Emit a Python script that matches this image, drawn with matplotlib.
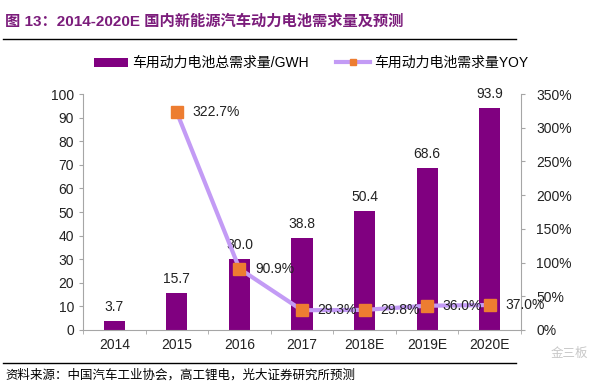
import matplotlib
matplotlib.use("Agg")
import matplotlib.pyplot as plt
from matplotlib.lines import Line2D
from matplotlib.ticker import FixedLocator

plt.rcParams['font.family'] = ['Liberation Sans', 'Noto Sans CJK SC', 'DejaVu Sans']

years = ['2014', '2015', '2016', '2017', '2018E', '2019E', '2020E']
demand = [3.7, 15.7, 30.0, 38.8, 50.4, 68.6, 93.9]
yoy_years = ['2015', '2016', '2017', '2018E', '2019E', '2020E']
yoy = [322.7, 90.9, 29.3, 29.8, 36.0, 37.0]

bar_color = '#800080'
line_color = '#C39BF5'
marker_color = '#ED7D31'
grey = '#A6A6A6'

fig = plt.figure(figsize=(6.16, 3.85), dpi=100)
ax1 = fig.add_axes([0.1347, 0.1429, 0.7111, 0.6129])

x = list(range(len(years)))
ax1.bar(x, demand, width=0.34, color=bar_color, label='车用动力电池总需求量/GWH', zorder=2)
for xi, v in zip(x, demand):
    ax1.text(xi, v + 3, f'{v:.1f}', ha='center', va='bottom', fontsize=10, color='#222222', zorder=5)

ax1.set_xlim(-0.5, len(years) - 0.5)
ax1.set_ylim(0, 100)
ax1.set_yticks(range(0, 101, 10))
ax1.set_xticks(x)
ax1.set_xticklabels(years)
ax1.xaxis.set_minor_locator(FixedLocator([i + 0.5 for i in range(-1, len(years))]))
ax1.tick_params(axis='x', which='major', length=0, labelsize=10, pad=6, colors='#222222')
ax1.tick_params(axis='x', which='minor', length=3, color=grey)
ax1.tick_params(axis='y', length=3, color=grey, labelsize=10, labelcolor='#222222')
for s in ['top', 'right']:
    ax1.spines[s].set_visible(False)
for s in ['left', 'bottom']:
    ax1.spines[s].set_color(grey)

ax2 = ax1.twinx()
yx = [years.index(y) for y in yoy_years]
ax2.plot(yx, yoy, color=line_color, lw=3, marker='s', markersize=9,
         markerfacecolor=marker_color, markeredgecolor=marker_color, zorder=3)
for xi, v in zip(yx, yoy):
    ax2.text(xi + 0.25, v, f'{v:.1f}%', ha='left', va='center', fontsize=10, color='#222222', zorder=5)
ax2.set_ylim(0, 350)
ax2.set_yticks(range(0, 351, 50))
ax2.set_yticklabels([f'{t}%' for t in range(0, 351, 50)])
ax2.tick_params(axis='y', length=3, color=grey, labelsize=10, labelcolor='#222222', pad=8)
for s in ['top', 'left', 'bottom']:
    ax2.spines[s].set_visible(False)
ax2.spines['right'].set_color(grey)

h1, l1 = ax1.get_legend_handles_labels()
yoy_handle = Line2D([], [], color=line_color, lw=3, marker='s', markersize=5,
                    markerfacecolor=marker_color, markeredgecolor=marker_color)
fig.legend(h1 + [yoy_handle], l1 + ['车用动力电池需求量YOY'], loc='center',
           bbox_to_anchor=(0.505, 0.836), ncol=2, frameon=False, fontsize=10,
           handlelength=2.4, handleheight=0.6, columnspacing=2.0, handletextpad=0.3)

fig.text(0.008, 0.943, '图 13：2014-2020E 国内新能源汽车动力电池需求量及预测',
         fontsize=11, fontweight='bold', color='#7B1C7B', ha='left', va='center')
fig.add_artist(plt.Line2D([0.005, 0.838], [0.899, 0.899], color='black', lw=1))
fig.add_artist(plt.Line2D([0.005, 0.838], [0.057, 0.057], color='black', lw=1))
fig.text(0.008, 0.026, '资料来源：中国汽车工业协会，高工锂电，光大证券研究所预测',
         fontsize=9, color='black', ha='left', va='center')
fig.text(0.925, 0.082, '金三板', fontsize=9, color='#C8C8C8', ha='center', va='center')

fig.savefig('out.png', dpi=100)
